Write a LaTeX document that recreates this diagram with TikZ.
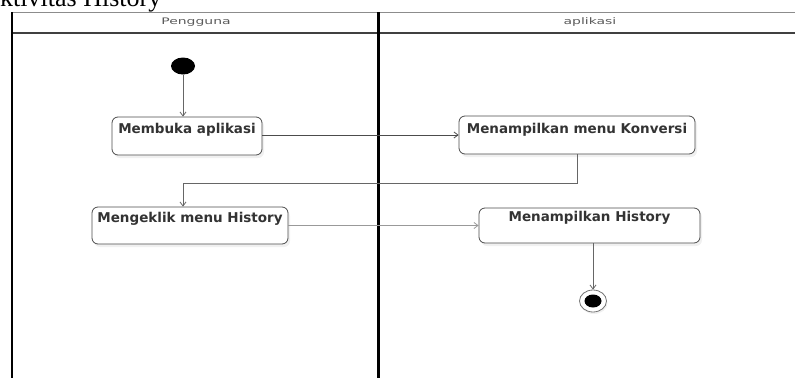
\documentclass[tikz,border=0pt]{standalone}
\usepackage{fontspec}
\setmainfont{Liberation Serif}
\newfontfamily\boxfont{DejaVu Sans}
\usetikzlibrary{arrows.meta,shadows,shapes.geometric}

\newcommand{\widetitle}[1]{\scalebox{1.55}[1]{#1}}

\tikzset{
  lanetitle/.style={font=\boxfont\fontsize{9}{10}\selectfont, text=black!65, inner sep=0pt},
  actbox/.style={draw=black!70, line width=0.8pt, rounded corners=6pt, fill=white,
    inner sep=0pt, drop shadow={opacity=0.12, shadow xshift=2pt, shadow yshift=-3pt}},
  acttext/.style={font=\boxfont\bfseries\fontsize{13.5}{15}\selectfont, text=black!80,
    inner sep=0pt, anchor=center},
  flow/.style={draw=black!60, line width=0.8pt, -{Straight Barb[length=4pt,width=6pt]}},
}

\begin{document}
\begin{tikzpicture}[x=1pt, y=-1pt]
  \useasboundingbox (0,0) rectangle (795,378);

  % heading above the lanes
  \node[font=\fontsize{26}{28}\selectfont, anchor=base west, inner sep=0pt] (title) at (0,6) {ktivitas History};

  % swimlane frame
  \draw[black!45, line width=0.8pt] (12,12) -- (795,12);
  \draw[black!75, line width=1.4pt] (12,33) -- (795,33);
  \draw[black, line width=2pt] (12,12) -- (12,378);
  \draw[black, line width=3pt] (378,12) -- (378,378);

  \node[lanetitle] (lane1) at (196,22.5) {\widetitle{Pengguna}};
  \node[lanetitle] (lane2) at (590,22.5) {\widetitle{aplikasi}};

  % start and end states
  \node[ellipse, fill=black, minimum width=24pt, minimum height=17pt, inner sep=0pt] (start) at (183,66) {};
  \node[ellipse, draw=black!55, line width=0.8pt, minimum width=27pt, minimum height=22pt, inner sep=0pt,
        drop shadow={opacity=0.12, shadow xshift=1pt, shadow yshift=-2pt}, fill=white] (stop) at (593,301) {};
  \node[ellipse, fill=black, minimum width=17pt, minimum height=13pt, inner sep=0pt] (stopdot) at (stop.center) {};

  % activities
  \node[actbox, minimum width=150pt, minimum height=38pt] (open) at (187,136) {};
  \node[acttext] (opentxt) at (187,130) {Membuka aplikasi};

  \node[actbox, minimum width=236pt, minimum height=38pt] (conv) at (577,135) {};
  \node[acttext] (convtxt) at (577,130) {Menampilkan menu Konversi};

  \node[actbox, minimum width=196pt, minimum height=37pt] (click) at (190,225.5) {};
  \node[acttext] (clicktxt) at (190,219) {Mengeklik menu History};

  \node[actbox, minimum width=221pt, minimum height=35pt] (hist) at (589.5,225.5) {};
  \node[acttext] (histtxt) at (589.5,218) {Menampilkan History};

  % control flow
  \draw[flow] (start.south) -- (start.south |- open.north);
  \draw[flow, draw=black!70] (open.east |- conv.west) -- (conv.west);
  \coordinate (turn) at (183,183);
  \draw[flow] (conv.south) |- (turn) -- (turn |- click.north);
  \draw[flow, draw=black!40] (click.east) -- (click.east -| hist.west);
  \draw[flow] (stop |- hist.south) -- (stop.north);
\end{tikzpicture}
\end{document}
